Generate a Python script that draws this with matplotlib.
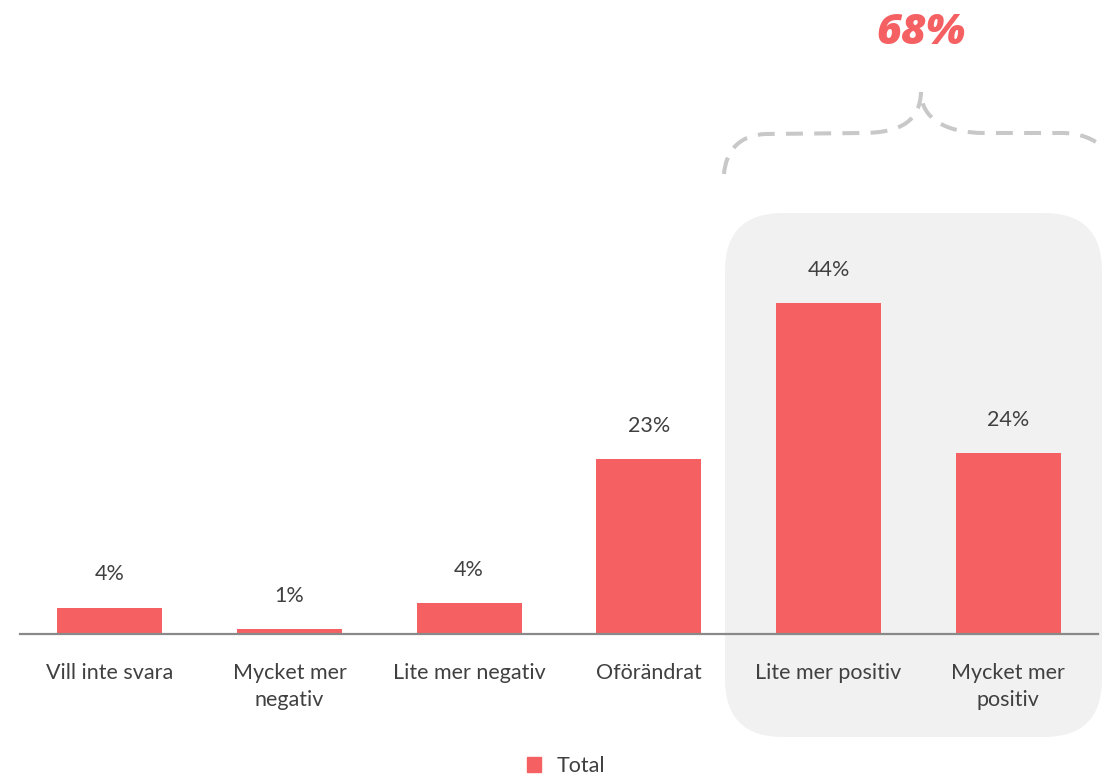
import matplotlib.pyplot as plt
from matplotlib.patches import FancyBboxPatch, PathPatch, Rectangle
from matplotlib.path import Path

plt.rcParams['font.family'] = ['Lato', 'DejaVu Sans']

categories = ['Vill inte svara', 'Mycket mer\nnegativ', 'Lite mer negativ',
              'Oförändrat', 'Lite mer positiv', 'Mycket mer\npositiv']
values = [3.5, 0.6, 4.1, 23.2, 44.0, 24.0]
labels = ['4%', '1%', '4%', '23%', '44%', '24%']
series_name = 'Total'
total_label = '68%'

bar_color = '#F56163'
text_color = '#404040'

fig = plt.figure(figsize=(11.05, 7.77), dpi=100)

# overlay in pixel coords for the grey box and the brace
ov = fig.add_axes([0, 0, 1, 1], zorder=0)
ov.set_xlim(0, 1105); ov.set_ylim(777, 0)
ov.axis('off')
ov.add_patch(FancyBboxPatch((725, 213), 377, 524,
                            boxstyle='round,pad=0,rounding_size=58',
                            fc='#F1F1F1', ec='none'))
verts = [(724, 174), (726, 150), (740, 135), (766, 134),
         (862, 133),
         (902, 133), (920, 120), (921, 92),
         (921, 118), (945, 133), (985, 133),
         (1062, 133),
         (1080, 133), (1094, 139), (1104, 148)]
codes = [Path.MOVETO, Path.CURVE4, Path.CURVE4, Path.CURVE4,
         Path.LINETO,
         Path.CURVE4, Path.CURVE4, Path.CURVE4,
         Path.CURVE4, Path.CURVE4, Path.CURVE4,
         Path.LINETO,
         Path.CURVE4, Path.CURVE4, Path.CURVE4]
ov.add_patch(PathPatch(Path(verts, codes), fc='none', ec='#C8C8C8', lw=2.9,
                       ls=(0, (4.2, 2.8)), capstyle='butt'))
ov.text(921, 33, total_label, ha='center', va='center', fontsize=31,
        fontweight='heavy', fontstyle='italic', color=bar_color,
        family=['Open Sans', 'DejaVu Sans'])

ax = fig.add_axes([20 / 1105, 1 - 634 / 777, 1078 / 1105, 451.4 / 777], zorder=1)
ax.patch.set_alpha(0)
x = range(len(categories))
bars = ax.bar(x, values, width=0.585, color=bar_color, label=series_name)
ax.set_xlim(-0.5, len(categories) - 0.5)
ax.set_ylim(0, 60)
for xi, v, lab in zip(x, values, labels):
    ax.annotate(lab, (xi, v), xytext=(0, 24), textcoords='offset points',
                ha='center', va='center', fontsize=15.5, color=text_color)
ax.set_xticks(list(x))
ax.set_xticklabels(categories, fontsize=15.5, color=text_color, linespacing=1.45)
ax.tick_params(axis='x', length=0, pad=21)
ax.set_yticks([])
for s in ['top', 'left', 'right']:
    ax.spines[s].set_visible(False)
ax.spines['bottom'].set_color('#898989')
ax.spines['bottom'].set_linewidth(1.6)

fig.legend(handles=[Rectangle((0, 0), 1, 1, color=bar_color)], labels=[series_name],
           loc='center', bbox_to_anchor=(566 / 1105, 1 - 766 / 777), frameon=False,
           fontsize=15.5, handlelength=0.65, handleheight=0.65, handletextpad=0.7,
           labelcolor=text_color)

fig.savefig('out.png', dpi=100)
